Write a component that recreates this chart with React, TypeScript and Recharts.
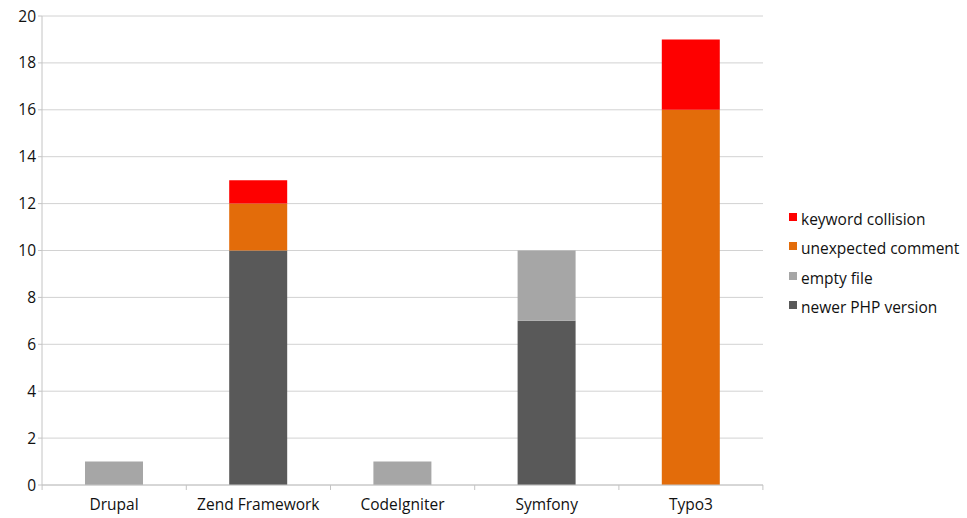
import { Bar, BarChart, CartesianGrid, XAxis, YAxis } from "recharts"

const categories = ["Drupal", "Zend Framework", "CodeIgniter", "Symfony", "Typo3"]
const newerPhp = [0, 10, 0, 7, 0]
const emptyFile = [1, 0, 1, 3, 0]
const unexpectedComment = [0, 2, 0, 0, 16]
const keywordCollision = [0, 1, 0, 0, 3]
const yTicks = [0, 2, 4, 6, 8, 10, 12, 14, 16, 18, 20]

const series = [
  { key: "newerPhp", name: "newer PHP version", color: "#595959" },
  { key: "emptyFile", name: "empty file", color: "#a6a6a6" },
  { key: "unexpectedComment", name: "unexpected comment", color: "#e36c0a" },
  { key: "keywordCollision", name: "keyword collision", color: "#fe0000" },
]

const data = categories.map((name, i) => ({
  name,
  newerPhp: newerPhp[i],
  emptyFile: emptyFile[i],
  unexpectedComment: unexpectedComment[i],
  keywordCollision: keywordCollision[i],
}))

const FONT = "'Open Sans', sans-serif"
const AXIS = "#c4c4c4"
const HALF_BAND = 72

function CategoryTick(props: any) {
  const { x, y, payload, index } = props
  const last = index === categories.length - 1
  return (
    <g>
      <line x1={x - HALF_BAND} x2={x - HALF_BAND} y1={y - 8} y2={y - 3} stroke={AXIS} />
      {last && <line x1={x + HALF_BAND} x2={x + HALF_BAND} y1={y - 8} y2={y - 3} stroke={AXIS} />}
      <text x={x} y={y + 17} textAnchor="middle" fill="#111" fontSize={15.5} fontFamily={FONT}>
        {payload.value}
      </text>
    </g>
  )
}

function LegendBox() {
  return (
    <div
      style={{
        position: "absolute",
        left: 789,
        top: 204,
        fontFamily: FONT,
        fontSize: 15.5,
        color: "#111",
      }}
    >
      {[...series].reverse().map((s) => (
        <div key={s.key} style={{ display: "flex", alignItems: "center", height: 29.5 }}>
          <span style={{ width: 8, height: 8, background: s.color, marginRight: 4, marginTop: -4 }} />
          <span>{s.name}</span>
        </div>
      ))}
    </div>
  )
}

export default function App() {
  return (
    <div style={{ position: "absolute", left: 0, top: 0, width: 967, height: 518, background: "#fff" }}>
      <BarChart
        width={967}
        height={518}
        data={data}
        margin={{ top: 16, right: 204, left: 8, bottom: 5 }}
        barSize={58}
      >
        <CartesianGrid vertical={false} stroke="#d2d2d2" />
        <XAxis
          dataKey="name"
          height={28}
          tickLine={false}
          stroke={AXIS}
          tick={<CategoryTick />}
          interval={0}
        />
        <YAxis
          width={34}
          domain={[0, 20]}
          ticks={yTicks}
          stroke={AXIS}
          tickSize={4}
          tick={{ fill: "#111", fontSize: 15.5, fontFamily: FONT }}
        />
        {series.map((s) => (
          <Bar key={s.key} dataKey={s.key} name={s.name} stackId="a" fill={s.color} isAnimationActive={false} />
        ))}
      </BarChart>
      <LegendBox />
    </div>
  )
}
